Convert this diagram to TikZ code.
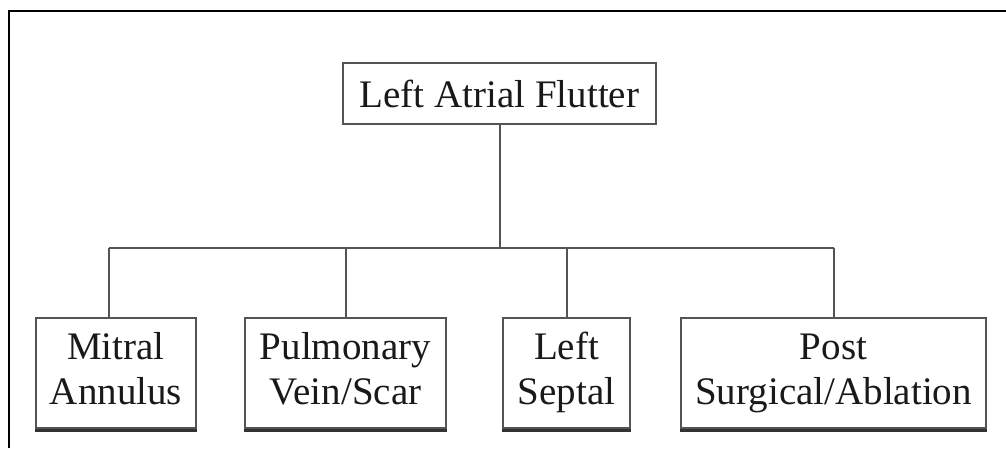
\documentclass[tikz,border=0pt]{standalone}
\usepackage{fontspec}
\setmainfont{Liberation Serif}
\usetikzlibrary{positioning, calc}
\definecolor{BoxGrey}{rgb}{0.33,0.33,0.33}
\definecolor{TextGrey}{rgb}{0.10,0.10,0.10}

\begin{document}
\begin{tikzpicture}[x=1pt,y=1pt,
    box/.style={draw=BoxGrey, line width=2pt, align=center, text=TextGrey,
        inner sep=0pt, font=\fontsize{39}{45}\selectfont},
    link/.style={draw=BoxGrey, line width=2pt}]

    \useasboundingbox (0,0) rectangle (1006,448);

    % outer frame
    \draw[line width=2.2pt, black] (9,0) -- (9,437) -- (1006,437);

    % top box
    \node[box, minimum width=313, minimum height=61] (flutter) at (499.5,354.5) {Left Atrial Flutter};

    % bottom boxes
    \node[box, minimum width=160, minimum height=110] (mitral) at (116,75) {\strut Mitral\\\strut Annulus};
    \node[box, minimum width=201, minimum height=110] (pulm) at (345.5,75) {\strut Pulmonary\\\strut Vein/Scar};
    \node[box, minimum width=127, minimum height=110] (septal) at (566.5,75) {\strut Left\\\strut Septal};
    \node[box, minimum width=305, minimum height=110] (post) at (833.5,75) {\strut Post\\\strut Surgical/Ablation};

    \coordinate (bus) at (504,200);  % level of the branch line

    % connectors
    \draw[link] (flutter.south) -- (flutter.south |- bus);
    \draw[link] ($(mitral.north |- bus)+(-7,0)$) -- (post.north |- bus);
    \draw[link] ($(mitral.north |- bus)+(-7,0)$) -- ($(mitral.north)+(-7,0)$);
    \foreach \n in {pulm,septal,post}
        \draw[link] (\n.north |- bus) -- (\n.north);

    % heavier bottom edges
    \foreach \n in {mitral,pulm,septal,post}
        \draw[BoxGrey!60!black, line width=3pt] ($(\n.south west)+(0,-1)$) -- ($(\n.south east)+(0,-1)$);

\end{tikzpicture}
\end{document}
